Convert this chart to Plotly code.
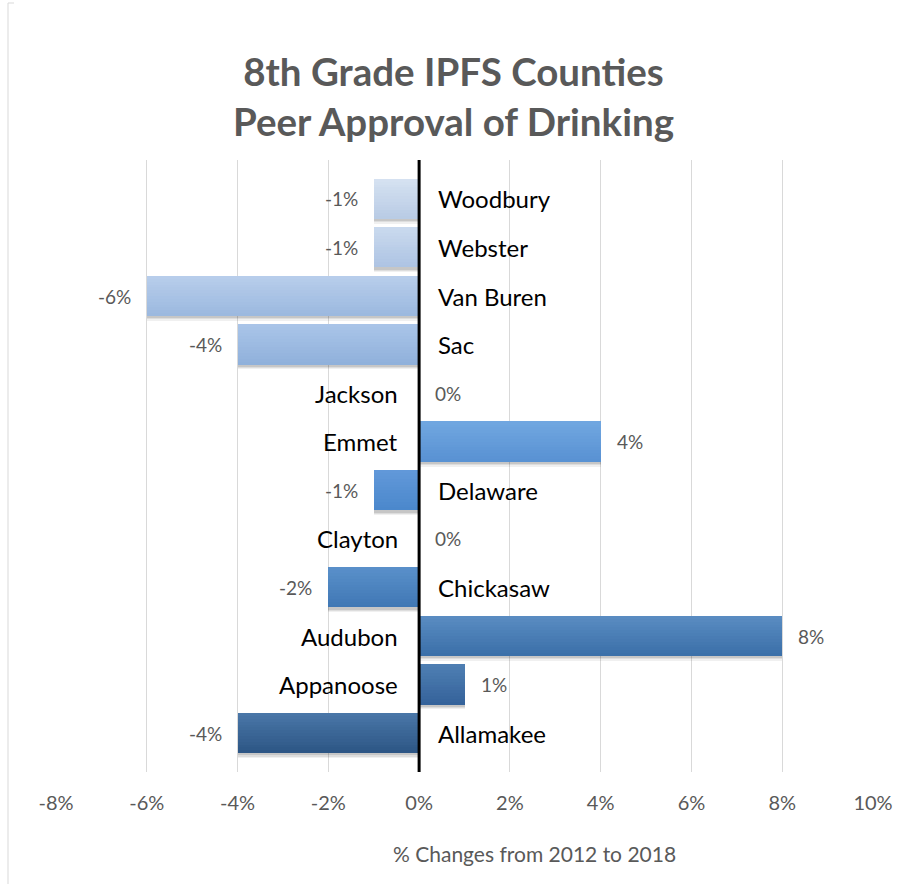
import plotly.graph_objects as go

# County rows, listed top to bottom as drawn
counties = ["Woodbury", "Webster", "Van Buren", "Sac", "Jackson", "Emmet",
            "Delaware", "Clayton", "Chickasaw", "Audubon", "Appanoose", "Allamakee"]
# Percent change from 2012 to 2018
changes = [-1, -1, -6, -4, 0, 4, -1, 0, -2, 8, 1, -4]
tick_values = [-8, -6, -4, -2, 0, 2, 4, 6, 8, 10]
tick_labels = ["-8%", "-6%", "-4%", "-2%", "0%", "2%", "4%", "6%", "8%", "10%"]

# Per-bar gradient colours (top edge, bottom edge)
top_colors = ["#d6e2f1", "#cadaee", "#b8ceeb", "#aac5e8", "#9dbde6", "#71a7e1",
              "#6299d9", "#5e94d0", "#5a90ca", "#5a8cc2", "#4f7fb3", "#4a77a8"]
bottom_colors = ["#b8cbe5", "#adc3e3", "#9bb8df", "#8fb0db", "#7ea6da", "#5891d2",
                 "#4a87cc", "#447dbe", "#3f77b4", "#3a6fa8", "#34629a", "#2c5584"]

W, H = 909, 884
L, R, T, B = 56, 36, 160, 112
PW, PH = W - L - R, H - T - B

def px_x(px):
    return (px - L) / PW

def px_y(py):
    return 1 - (py - T) / PH

def hex_rgb(h):
    h = h.lstrip("#")
    return [int(h[i:i + 2], 16) for i in (0, 2, 4)]

def mix(c0, c1, t):
    a, b = hex_rgb(c0), hex_rgb(c1)
    return "rgb(%d,%d,%d)" % tuple(round(a[i] + (b[i] - a[i]) * t) for i in range(3))

n = len(counties)
ypos = [n - 1 - i for i in range(n)]
bar_w = 0.825
strips = 14

fig = go.Figure()

# soft drop shadow under each bar
for shift, alpha in [(0.10, 0.06), (0.07, 0.08), (0.045, 0.10)]:
    fig.add_trace(go.Bar(
        x=changes, y=ypos, orientation="h", width=bar_w, offset=-bar_w / 2 - shift,
        marker=dict(color="rgba(0,0,0,%.2f)" % alpha, line=dict(width=0)),
        hoverinfo="skip", showlegend=False))

# vertical gradient built from thin horizontal strips
for k in range(strips):
    t = (k + 0.5) / strips  # 0 = bottom, 1 = top
    colors = [mix(bottom_colors[i], top_colors[i], t) for i in range(n)]
    fig.add_trace(go.Bar(
        x=changes, y=ypos, orientation="h",
        width=bar_w / strips * 1.08, offset=-bar_w / 2 + k * bar_w / strips,
        marker=dict(color=colors, line=dict(width=0)),
        hoverinfo="skip", showlegend=False))

name_font = dict(size=24, color="#000000")
value_font = dict(size=19, color="#595959")

annotations = []
for i, (name, v) in enumerate(zip(counties, changes)):
    y = ypos[i]
    if v < 0:
        annotations.append(dict(x=0, y=y, text=name, xanchor="left", xshift=17,
                                showarrow=False, font=name_font))
        annotations.append(dict(x=v, y=y, text="%d%%" % v, xanchor="right", xshift=-14,
                                showarrow=False, font=value_font))
    else:
        annotations.append(dict(x=0, y=y, text=name, xanchor="right", xshift=-19,
                                showarrow=False, font=name_font))
        annotations.append(dict(x=v, y=y, text="%d%%" % v, xanchor="left", xshift=14,
                                showarrow=False, font=value_font))

annotations.append(dict(
    xref="paper", yref="paper", x=px_x(453), y=px_y(96),
    text="<b>8th Grade IPFS Counties<br>Peer Approval of Drinking</b>",
    showarrow=False, xanchor="center", yanchor="middle",
    font=dict(size=38.5, color="#595959")))
annotations.append(dict(
    xref="paper", yref="paper", x=px_x(534), y=px_y(853),
    text="% Changes from 2012 to 2018", showarrow=False,
    xanchor="center", yanchor="middle", font=dict(size=21, color="#595959")))

shapes = [
    dict(type="line", xref="x", yref="paper", x0=0, x1=0, y0=0, y1=1,
         line=dict(color="#000000", width=3), layer="above"),
    # chart-area frame edge on the left
    dict(type="line", xref="paper", yref="paper", x0=px_x(8), x1=px_x(8),
         y0=px_y(884), y1=px_y(3), line=dict(color="#d9d9d9", width=1)),
    dict(type="line", xref="paper", yref="paper", x0=px_x(8), x1=px_x(14),
         y0=px_y(3), y1=px_y(3), line=dict(color="#d9d9d9", width=1)),
]

fig.update_layout(
    width=W, height=H, margin=dict(l=L, r=R, t=T, b=B),
    paper_bgcolor="white", plot_bgcolor="white",
    barmode="overlay", bargap=0,
    font=dict(family="Lato, 'Open Sans', sans-serif", color="#595959"),
    annotations=annotations, shapes=shapes, showlegend=False,
    xaxis=dict(range=[-8, 10], tickvals=tick_values, ticktext=tick_labels,
               showgrid=True, gridcolor="#d9d9d9", gridwidth=1, zeroline=False,
               showline=False, ticks="outside", ticklen=13,
               tickcolor="rgba(0,0,0,0)", tickfont=dict(size=20, color="#595959"),
               fixedrange=True),
    yaxis=dict(range=[-0.8, n - 1 + 0.8], showticklabels=False, showgrid=False,
               zeroline=False, showline=False, ticks="", fixedrange=True),
)

fig.write_html("out.html")
